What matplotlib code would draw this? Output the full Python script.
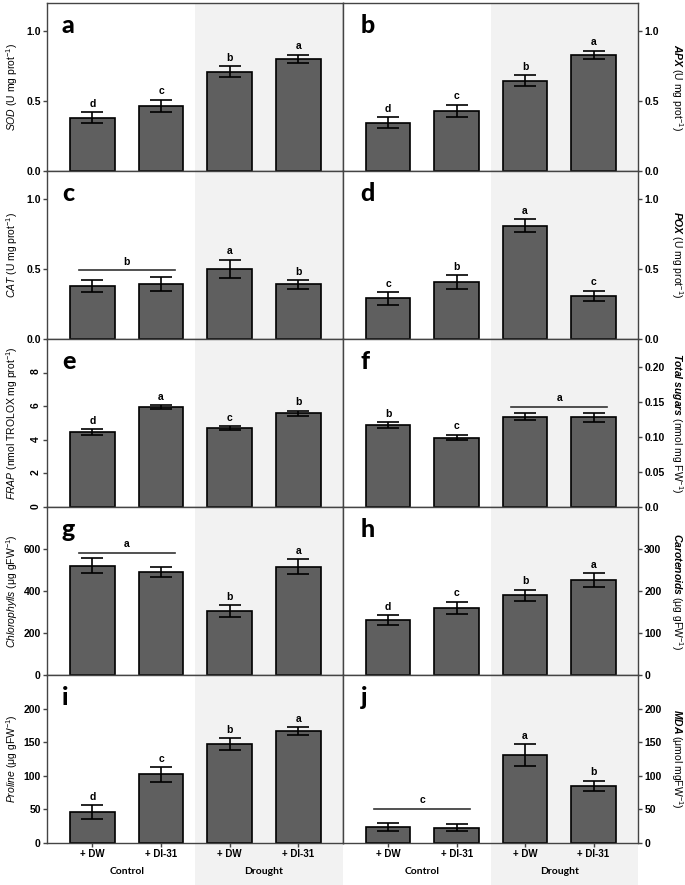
import matplotlib
matplotlib.use('Agg')
import matplotlib.pyplot as plt
import matplotlib.transforms as mtransforms
from matplotlib.patches import Rectangle
import numpy as np

plt.rcParams['font.family'] = ['Liberation Sans', 'DejaVu Sans']
plt.rcParams['mathtext.fontset'] = 'custom'
plt.rcParams['mathtext.rm'] = 'Liberation Sans'
plt.rcParams['mathtext.it'] = 'Liberation Sans:italic'
plt.rcParams['mathtext.bf'] = 'Liberation Sans:bold'
plt.rcParams['mathtext.bfit'] = 'Liberation Sans:italic:bold'

# ---- data ----
treatments = ['+ DW', '+ DI-31', '+ DW', '+ DI-31']
groups = ['Control', 'Drought']

sod_mean = [0.38, 0.465, 0.71, 0.80]
sod_err = [0.04, 0.045, 0.04, 0.03]
sod_letters = ['d', 'c', 'b', 'a']

apx_mean = [0.345, 0.43, 0.645, 0.83]
apx_err = [0.04, 0.045, 0.04, 0.03]
apx_letters = ['d', 'c', 'b', 'a']

cat_mean = [0.38, 0.395, 0.50, 0.39]
cat_err = [0.045, 0.05, 0.065, 0.03]
cat_letters = ['', '', 'a', 'b']
cat_lines = [(-0.2, 1.2, 0.49, 'b')]

pox_mean = [0.29, 0.405, 0.81, 0.31]
pox_err = [0.045, 0.05, 0.045, 0.035]
pox_letters = ['c', 'b', 'a', 'c']

frap_mean = [4.45, 5.93, 4.7, 5.58]
frap_err = [0.17, 0.12, 0.12, 0.16]
frap_letters = ['d', 'a', 'c', 'b']

sugar_mean = [0.117, 0.099, 0.129, 0.128]
sugar_err = [0.004, 0.004, 0.005, 0.007]
sugar_letters = ['b', 'c', '', '']
sugar_lines = [(1.8, 3.2, 0.143, 'a')]

chl_mean = [520, 492, 305, 516]
chl_err = [36, 24, 28, 35]
chl_letters = ['', '', 'b', 'a']
chl_lines = [(-0.2, 1.2, 582, 'a')]

car_mean = [131, 160, 190, 226]
car_err = [11, 14, 13, 16]
car_letters = ['d', 'c', 'b', 'a']

pro_mean = [46, 102, 147, 166]
pro_err = [10, 11, 9, 6]
pro_letters = ['d', 'c', 'b', 'a']

mda_mean = [24, 23, 131, 85]
mda_err = [6, 5, 16, 8]
mda_letters = ['', '', 'a', 'b']
mda_lines = [(-0.2, 1.2, 51, 'c')]

panels = [
    dict(tag='a', label=r'$\it{SOD}$ (U mg prot$^{-1}$)', mean=sod_mean, err=sod_err, letters=sod_letters,
         lines=[], ylim=1.2, ticks=[0, 0.5, 1.0], ticklabels=['0.0', '0.5', '1.0']),
    dict(tag='b', label=r'$\mathbfit{APX}$ (U mg prot$^{-1}$)', mean=apx_mean, err=apx_err, letters=apx_letters,
         lines=[], ylim=1.2, ticks=[0, 0.5, 1.0], ticklabels=['0.0', '0.5', '1.0']),
    dict(tag='c', label=r'$\it{CAT}$ (U mg prot$^{-1}$)', mean=cat_mean, err=cat_err, letters=cat_letters,
         lines=cat_lines, ylim=1.2, ticks=[0, 0.5, 1.0], ticklabels=['0.0', '0.5', '1.0']),
    dict(tag='d', label=r'$\mathbfit{POX}$ (U mg prot$^{-1}$)', mean=pox_mean, err=pox_err, letters=pox_letters,
         lines=[], ylim=1.2, ticks=[0, 0.5, 1.0], ticklabels=['0.0', '0.5', '1.0']),
    dict(tag='e', label=r'$\it{FRAP}$ (nmol TROLOX mg prot$^{-1}$)', mean=frap_mean, err=frap_err,
         letters=frap_letters, lines=[], ylim=10, ticks=[0, 2, 4, 6, 8],
         ticklabels=['0', '2', '4', '6', '8'], rot=90),
    dict(tag='f', label=r'$\mathbfit{Total\ sugars}$ (nmol mg FW$^{-1}$)', mean=sugar_mean, err=sugar_err,
         letters=sugar_letters, lines=sugar_lines, ylim=0.24, ticks=[0, 0.05, 0.10, 0.15, 0.20],
         ticklabels=['0.0', '0.05', '0.10', '0.15', '0.20']),
    dict(tag='g', label=r'$\it{Chlorophylls}$ (μg gFW$^{-1}$)', mean=chl_mean, err=chl_err,
         letters=chl_letters, lines=chl_lines, ylim=800, ticks=[0, 200, 400, 600],
         ticklabels=['0', '200', '400', '600']),
    dict(tag='h', label=r'$\mathbfit{Carotenoids}$ (μg gFW$^{-1}$)', mean=car_mean, err=car_err,
         letters=car_letters, lines=[], ylim=400, ticks=[0, 100, 200, 300],
         ticklabels=['0', '100', '200', '300']),
    dict(tag='i', label=r'$\it{Proline}$ (μg gFW$^{-1}$)', mean=pro_mean, err=pro_err,
         letters=pro_letters, lines=[], ylim=250, ticks=[0, 50, 100, 150, 200],
         ticklabels=['0', '50', '100', '150', '200']),
    dict(tag='j', label=r'$\mathbfit{MDA}$ (μmol mgFW$^{-1}$)', mean=mda_mean, err=mda_err,
         letters=mda_letters, lines=mda_lines, ylim=250, ticks=[0, 50, 100, 150, 200],
         ticklabels=['0', '50', '100', '150', '200']),
]

# ---- layout (pixels) ----
W, H = 685, 885
col_x = [47, 343]
col_w = [296, 295]
row_top = [3, 171, 339, 507, 675]
row_h = 168

bar_color = '#5f5f5f'
shade_color = '#f2f2f2'
spine_color = '#444444'
x = np.arange(4)
xmin, xmax = -0.66, 3.65

fig = plt.figure(figsize=(W / 100, H / 100), dpi=100, facecolor='white')

for k, p in enumerate(panels):
    row, col = divmod(k, 2)
    ax = fig.add_axes([col_x[col] / W, 1 - (row_top[row] + row_h) / H, col_w[col] / W, row_h / H])
    ax.set_xlim(xmin, xmax)
    ax.set_ylim(0, p['ylim'])

    ax.axvspan(1.5, xmax, color=shade_color, lw=0, zorder=0)
    ax.bar(x, p['mean'], width=0.65, color=bar_color, edgecolor='black', linewidth=1.2, zorder=2)
    ax.errorbar(x, p['mean'], yerr=p['err'], fmt='none', ecolor='black', elinewidth=1.2,
                capsize=8, capthick=1.2, zorder=3)

    for i, let in enumerate(p['letters']):
        if let:
            ax.annotate(let, (x[i], p['mean'][i] + p['err'][i]), xytext=(0, 2.5),
                        textcoords='offset points', ha='center', va='bottom',
                        fontsize=7.5, fontweight='bold')
    for x0, x1, y, let in p['lines']:
        ax.plot([x0, x1], [y, y], color='#333333', lw=1.2, zorder=3)
        ax.annotate(let, ((x0 + x1) / 2, y), xytext=(0, 2.5), textcoords='offset points',
                    ha='center', va='bottom', fontsize=7.5, fontweight='bold')

    # panel letter
    ax.text(0.05 if col == 0 else 0.06, 0.82, p['tag'], transform=ax.transAxes,
            ha='left', va='baseline', fontsize=18, fontweight='black', family=['Lato', 'DejaVu Sans'])

    ax.set_yticks(p['ticks'])
    ax.set_yticklabels(p['ticklabels'], fontsize=7.5, fontweight='bold')
    ax.set_xticks(x)
    for s in ax.spines.values():
        s.set_color(spine_color)
        s.set_linewidth(1.0)
    ax.tick_params(axis='both', direction='out', length=3, width=1, color=spine_color, pad=1.5)
    if p.get('rot'):
        ax.tick_params(axis='y', labelrotation=p['rot'])

    if col == 0:
        ax.set_ylabel(p['label'], fontsize=7.5, va='center')
        ax.yaxis.set_label_coords(-0.118, 0.5)
    else:
        ax.yaxis.tick_right()
        ax.yaxis.set_label_position('right')
        ax.set_ylabel(p['label'], fontsize=7.5, rotation=270, va='center')
        ax.yaxis.set_label_coords(1.132, 0.5)

    if row == 4:
        ax.set_xticklabels(treatments, fontsize=7, fontweight='bold')
        trans = mtransforms.blended_transform_factory(ax.transData, ax.transAxes)
        ax.add_patch(Rectangle((1.5, -0.26), xmax - 1.5, 0.26, transform=trans,
                               facecolor=shade_color, lw=0, clip_on=False, zorder=0))
        for gi, g in enumerate(groups):
            ax.text(2 * gi + 0.5, -0.167, g, transform=trans, ha='center', va='center',
                    fontsize=7.5, fontweight='bold', family=['Lato', 'DejaVu Sans'])
    else:
        ax.set_xticklabels([])

fig.savefig('out.png', dpi=100, facecolor='white')
